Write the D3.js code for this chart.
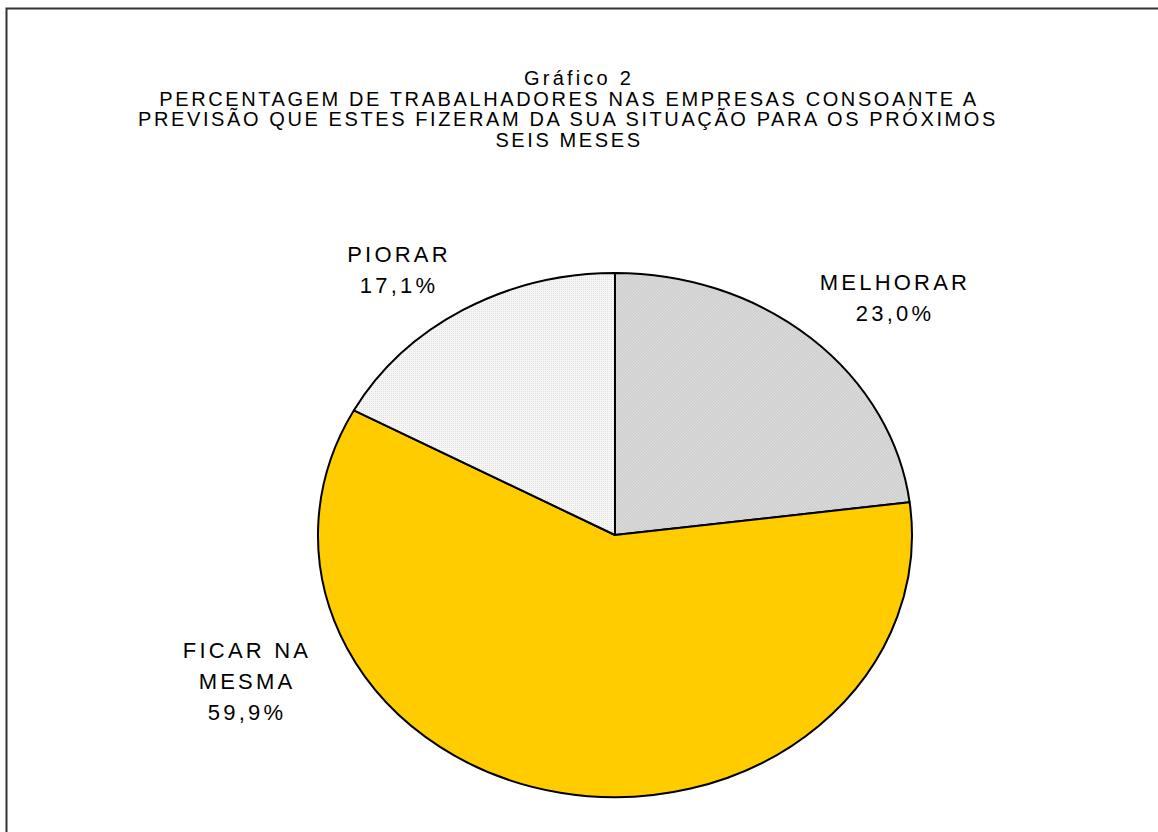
<!DOCTYPE html>
<html>
<head>
<meta charset="utf-8">
<script src="https://cdn.jsdelivr.net/npm/d3@7"></script>
<style>
  html, body { margin: 0; padding: 0; background: #fff; }
  svg { display: block; }
  text { font-family: "Liberation Sans", Arial, sans-serif; fill: #000; }
</style>
</head>
<body>
<svg id="chart" width="1158" height="832"></svg>
<script>
// ---- data ----
const categories = ["MELHORAR", "FICAR NA MESMA", "PIORAR"];
const values = [23.0, 59.9, 17.1];
const labelLines = [["MELHORAR"], ["FICAR NA", "MESMA"], ["PIORAR"]];
const titleLines = [
  "Gráfico 2",
  "PERCENTAGEM DE TRABALHADORES NAS EMPRESAS CONSOANTE A",
  "PREVISÃO QUE ESTES FIZERAM DA SUA SITUAÇÃO PARA OS PRÓXIMOS",
  "SEIS MESES"
];

// ---- layout ----
const W = 1158, H = 832;
const cx = 615, cy = 535, rx = 297, ry = 262;
const fills = ["url(#hatchGray)", "#ffcc00", "url(#dotLight)"];
const labelAnchors = [[895, 290], [247, 658], [399, 262]];
const titleCenters = [579, 569, 568, 569];
const fmt = v => d3.format(".1f")(v).replace(".", ",") + "%";

const svg = d3.select("#chart");

// patterns (counter-scaled because pie is drawn in a unit space)
const defs = svg.append("defs");
const p1 = defs.append("pattern").attr("id", "hatchGray")
  .attr("patternUnits", "userSpaceOnUse").attr("width", 3).attr("height", 3)
  .attr("patternTransform", `scale(${1/rx},${1/ry})`);
p1.append("rect").attr("width", 3).attr("height", 3).attr("fill", "#d9d9d9");
p1.append("path").attr("d", "M0,3 L3,0").attr("stroke", "#cacaca").attr("stroke-width", 1);

const p2 = defs.append("pattern").attr("id", "dotLight")
  .attr("patternUnits", "userSpaceOnUse").attr("width", 2).attr("height", 2)
  .attr("patternTransform", `scale(${1/rx},${1/ry})`);
p2.append("rect").attr("width", 2).attr("height", 2).attr("fill", "#f6f6f6");
p2.append("rect").attr("width", 1).attr("height", 1).attr("fill", "#e2e2e2");

// border (top and left visible, extends beyond window)
svg.append("rect")
  .attr("x", 6.5).attr("y", 8.5).attr("width", W + 20).attr("height", H + 20)
  .attr("fill", "none").attr("stroke", "#333").attr("stroke-width", 2);

// title
const title = svg.append("g");
titleLines.forEach((t, i) => {
  title.append("text")
    .attr("x", titleCenters[i]).attr("y", 85 + i * 20.7)
    .attr("text-anchor", "middle")
    .attr("font-size", 20)
    .attr("letter-spacing", i === 0 ? 3.2 : 2.6)
    .text(t);
});

// pie
const pie = d3.pie().sort(null).value(d => d)(values);
const arc = d3.arc().innerRadius(0).outerRadius(1);
const g = svg.append("g").attr("transform", `translate(${cx},${cy}) scale(${rx},${ry})`);
g.selectAll("path").data(pie).join("path")
  .attr("d", arc)
  .attr("fill", (d, i) => fills[i])
  .attr("stroke", "#000")
  .attr("stroke-width", 2)
  .attr("vector-effect", "non-scaling-stroke")
  .attr("stroke-linejoin", "round");

// labels
pie.forEach((d, i) => {
  const [lx, ly] = labelAnchors[i];
  const lines = labelLines[i].concat([fmt(values[i])]);
  lines.forEach((t, j) => {
    svg.append("text")
      .attr("x", lx).attr("y", ly + j * 31)
      .attr("text-anchor", "middle")
      .attr("font-size", 22)
      .attr("letter-spacing", 3.2)
      .text(t);
  });
});
</script>
</body>
</html>
